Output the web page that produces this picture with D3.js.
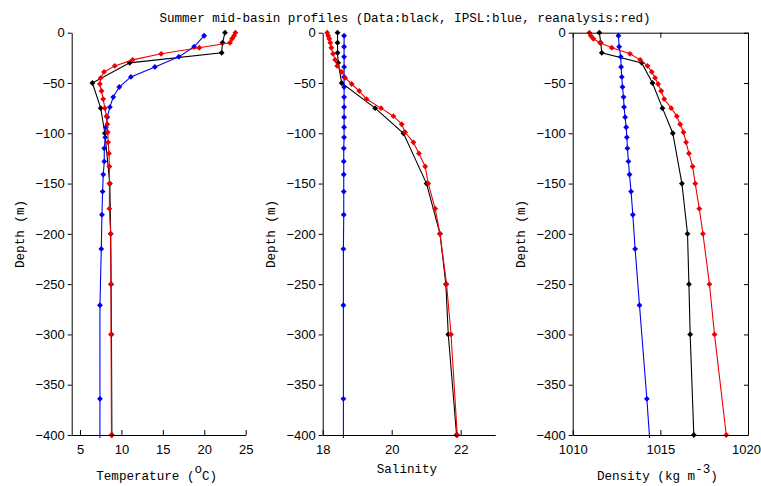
<!DOCTYPE html>
<html>
<head>
<meta charset="utf-8">
<script src="https://cdn.jsdelivr.net/npm/d3@7"></script>
<style>
  body { margin: 0; background: #fff; }
  svg { display: block; }
  .tick text { font-family: "Liberation Sans", Arial, sans-serif; font-size: 13px; fill: #000; }
  .lbl { font-family: "Liberation Mono", "DejaVu Sans Mono", monospace; font-size: 12.6px; fill: #000; }
</style>
</head>
<body>
<svg id="chart" width="761" height="486"></svg>
<script>
// depths (m, positive down) and values
let obsDepth = [0, 10, 20, 30, 50, 75, 100, 150, 200, 250, 300, 400]
let obsTemp = [22.5, 22.2, 22.1, 11.0, 6.5, 7.5, 8.0, 8.6, 8.7, 8.75, 8.8, 8.85]
let obsSal = [18.43, 18.43, 18.43, 18.45, 18.55, 19.52, 20.34, 21.01, 21.4, 21.57, 21.64, 21.88]
let obsDens = [1011.52, 1011.6, 1011.66, 1013.94, 1014.55, 1015.12, 1015.71, 1016.23, 1016.55, 1016.63, 1016.7, 1016.91]

let ipslDepth = [3, 14, 24, 34, 44, 54, 64, 74, 84, 94, 104, 115, 128, 141, 158, 181, 215, 271, 364, 456]
let ipslTemp = [19.98, 18.77, 16.93, 14.04, 11.14, 9.74, 9.01, 8.61, 8.29, 8.13, 8.05, 7.93, 7.93, 7.81, 7.73, 7.65, 7.57, 7.41, 7.41, 7.4]
let ipslSal = [18.62, 18.62, 18.62, 18.62, 18.62, 18.62, 18.62, 18.62, 18.62, 18.62, 18.62, 18.61, 18.61, 18.61, 18.61, 18.61, 18.6, 18.6, 18.6, 18.6]
let ipslDens = [1012.61, 1012.65, 1012.74, 1012.76, 1012.8, 1012.84, 1012.9, 1012.93, 1012.99, 1013.05, 1013.09, 1013.12, 1013.18, 1013.24, 1013.33, 1013.43, 1013.56, 1013.81, 1014.23, 1014.6]

let reanDepth = [0, 3, 6, 10, 15, 21, 27, 33, 39, 45, 51, 58, 66, 75, 83, 91, 99, 109, 120, 133, 150, 175, 200, 250, 300, 400]
let reanTemp = [23.76, 23.6, 23.35, 23.1, 19.4, 14.8, 11.35, 9.2, 7.9, 7.5, 7.4, 7.6, 7.8, 8.0, 8.2, 8.3, 8.35, 8.4, 8.5, 8.55, 8.55, 8.55, 8.7, 8.75, 8.75, 8.8]
let reanSal = [18.13, 18.16, 18.19, 18.22, 18.25, 18.3, 18.36, 18.42, 18.55, 18.65, 18.84, 19.06, 19.27, 19.69, 20.05, 20.29, 20.39, 20.63, 20.79, 20.97, 21.06, 21.26, 21.4, 21.59, 21.72, 21.9]
let reanDens = [1010.95, 1011.03, 1011.18, 1011.56, 1012.23, 1013.27, 1013.85, 1014.27, 1014.51, 1014.7, 1014.87, 1015.05, 1015.22, 1015.62, 1015.94, 1016.13, 1016.32, 1016.47, 1016.63, 1016.84, 1016.99, 1017.22, 1017.43, 1017.8, 1018.09, 1018.76]

let depthTicks = [0, -50, -100, -150, -200, -250, -300, -350, -400]
let title = "Summer mid-basin profiles (Data:black, IPSL:blue, reanalysis:red)"

let svg = d3.select("#chart")
let y = d3.scaleLinear().domain([-400, 0]).range([435, 32.7])

svg.append("text").attr("class", "lbl")
    .attr("x", 405).attr("y", 22).attr("text-anchor", "middle")
    .text(title)

let panels = [
    {left: 71.7, right: 245.7, domain: [4, 25], ticks: [5, 10, 15, 20, 25], box: false,
     series: [[obsDepth, obsTemp, "#000"], [ipslDepth, ipslTemp, "#0000ee"], [reanDepth, reanTemp, "#ee0000"]],
     xlabel: ["Temperature (", "o", "C)"], labelY: 480},
    {left: 322.7, right: 495.2, domain: [18, 23], ticks: [18, 20, 22], box: false,
     series: [[obsDepth, obsSal, "#000"], [ipslDepth, ipslSal, "#0000ee"], [reanDepth, reanSal, "#ee0000"]],
     xlabel: ["Salinity"], labelY: 473},
    {left: 572.7, right: 748, domain: [1010, 1020], ticks: [1010, 1015, 1020], box: true,
     series: [[obsDepth, obsDens, "#000"], [ipslDepth, ipslDens, "#0000ee"], [reanDepth, reanDens, "#ee0000"]],
     xlabel: ["Density (kg m", "-3", ")"], labelY: 480}
]

panels.forEach((p, i) => {
    let x = d3.scaleLinear().domain(p.domain).range([p.left, p.right])
    let g = svg.append("g")

    let clipId = "clip" + i
    svg.append("clipPath").attr("id", clipId)
        .append("rect").attr("x", p.left).attr("y", 28)
        .attr("width", p.right - p.left + 6).attr("height", 438 - 28)

    let plot = g.append("g").attr("clip-path", `url(#${clipId})`)
    let line = d3.line().x(d => x(d[1])).y(d => y(-d[0]))

    p.series.forEach(s => {
        let pts = s[0].map((dp, k) => [dp, s[1][k]])
        plot.append("path").datum(pts)
            .attr("d", line).attr("fill", "none")
            .attr("stroke", s[2]).attr("stroke-width", 1.1)
        plot.selectAll(null).data(pts.filter(d => d[0] <= 400))
            .join("path")
            .attr("d", d3.symbol(d3.symbolSquare, 17))
            .attr("transform", d => `translate(${x(d[1])},${y(-d[0])}) rotate(45)`)
            .attr("fill", s[2])
    })

    let yAxis = d3.axisLeft(y).tickValues(depthTicks).tickSizeInner(4).tickSizeOuter(0).tickPadding(3)
    g.append("g").attr("transform", `translate(${p.left},0)`).call(yAxis)

    let xAxis = d3.axisBottom(x).tickValues(p.ticks).tickSizeInner(-5).tickSizeOuter(0).tickPadding(10)
        .tickFormat(d3.format("d"))
    let xg = g.append("g").attr("transform", "translate(0,435)").call(xAxis)
    // last density label sits on the page edge; nudge it inside
    if (p.box) xg.selectAll(".tick text").filter(d => d === 1020).attr("dx", -2)

    if (p.box) {
        g.append("g").attr("transform", `translate(${p.right},0)`)
            .call(d3.axisRight(y).tickValues(depthTicks).tickSizeInner(-4).tickSizeOuter(0).tickFormat(""))
        g.append("g").attr("transform", `translate(0,${y(0)})`)
            .call(d3.axisTop(x).tickValues(p.ticks).tickSizeInner(-5).tickSizeOuter(0).tickFormat(""))
    }
    g.selectAll(".domain, .tick line").attr("stroke", "#000")

    // axis labels
    let xl = g.append("text").attr("class", "lbl")
        .attr("x", (p.left + p.right) / 2 - (i === 2 ? 3 : 2)).attr("y", p.labelY)
        .attr("text-anchor", "middle")
    xl.append("tspan").text(p.xlabel[0])
    if (p.xlabel.length > 1) {
        xl.append("tspan").attr("dy", -7).text(p.xlabel[1])
        xl.append("tspan").attr("dy", 7).text(p.xlabel[2])
    }

    g.append("text").attr("class", "lbl")
        .attr("transform", `translate(${p.left - 47.5},234) rotate(-90)`)
        .attr("text-anchor", "middle")
        .text("Depth (m)")
})
</script>
</body>
</html>
